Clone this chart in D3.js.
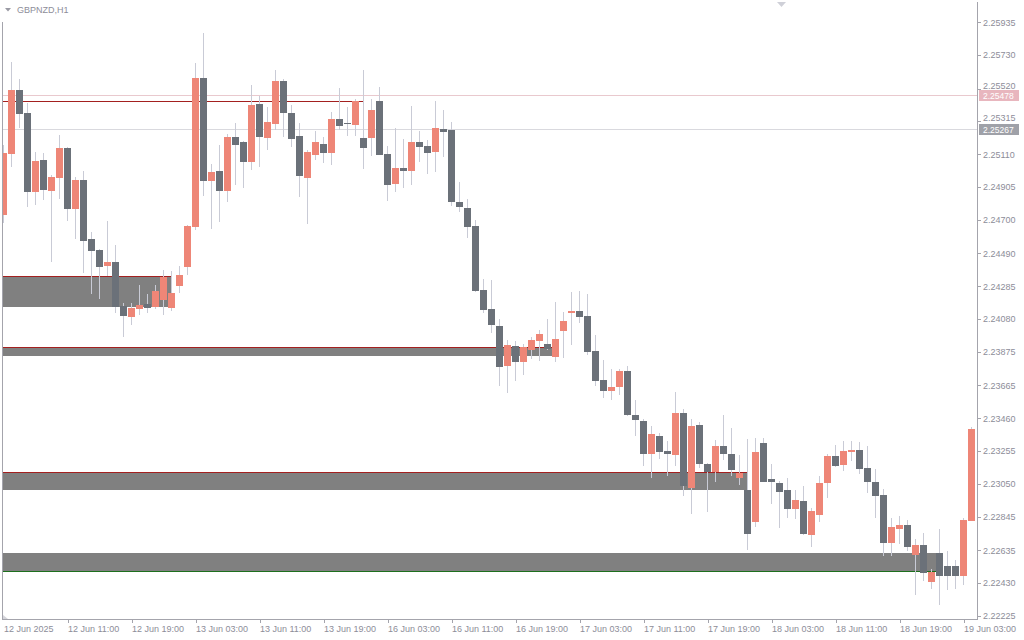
<!DOCTYPE html>
<html><head><meta charset="utf-8">
<script src="https://cdn.jsdelivr.net/npm/d3@7"></script>
<style>html,body{margin:0;padding:0;background:#fff;} svg{display:block;}</style>
</head><body>
<svg id="chart" width="1024" height="640"></svg>
<script>
const symbolLabel = "GBPNZD,H1";
const opens = [2.24732,2.25113,2.25512,2.25368,2.24874,2.25074,2.24880,2.24962,2.25149,2.24768,
2.24949,2.24580,2.24512,2.24412,2.24437,2.24162,2.24095,2.24145,2.24172,2.24157,
2.24201,2.24151,2.24288,2.24407,2.24657,2.25587,2.24945,2.25005,2.24882,2.25218,
2.25187,2.25063,2.25424,2.25213,2.25301,2.25568,2.25368,2.25224,2.24963,2.25107,
2.25174,2.25120,2.25330,2.25303,2.25295,2.25212,2.25213,2.25443,2.25112,2.24926,
2.25024,2.25007,2.25187,2.25162,2.25124,2.25268,2.25262,2.24812,2.24774,2.24662,
2.24262,2.24143,2.24037,2.23788,2.23912,2.23813,2.23888,2.23945,2.23924,2.23845,
2.24007,2.24118,2.24130,2.24099,2.23880,2.23699,2.23632,2.23657,2.23755,2.23480,
2.23443,2.23238,2.23349,2.23255,2.23232,2.23493,2.23026,2.23418,2.23174,2.23122,
2.23287,2.23237,2.23088,2.23012,2.22813,2.23305,2.23080,2.23055,2.23012,2.22895,
2.22943,2.22732,2.22857,2.23057,2.23224,2.23170,2.23251,2.23262,2.23149,2.23062,
2.22980,2.22682,2.22770,2.22793,2.22607,2.22668,2.22438,2.22618,2.22537,2.22537,
2.22476,2.22820];
const highs = [2.25168,2.25687,2.25580,2.25428,2.25124,2.25118,2.24980,2.25230,2.25155,2.24968,
2.25005,2.24624,2.24518,2.24693,2.24543,2.24182,2.24178,2.24293,2.24237,2.24293,
2.24387,2.24380,2.24412,2.24668,2.25680,2.25868,2.25049,2.25168,2.25237,2.25305,
2.25193,2.25543,2.25476,2.25405,2.25637,2.25580,2.25420,2.25305,2.25137,2.25255,
2.25218,2.25374,2.25524,2.25405,2.25455,2.25637,2.25455,2.25530,2.25162,2.25272,
2.25203,2.25412,2.25255,2.25199,2.25443,2.25387,2.25312,2.24937,2.24830,2.24699,
2.24330,2.24324,2.24080,2.23949,2.23943,2.23924,2.23968,2.24012,2.24080,2.24187,
2.24124,2.24249,2.24255,2.24237,2.23980,2.23824,2.23768,2.23768,2.23787,2.23574,
2.23455,2.23413,2.23370,2.23318,2.23624,2.23518,2.23455,2.23437,2.23180,2.23324,
2.23480,2.23399,2.23230,2.23330,2.23337,2.23337,2.23174,2.23068,2.23087,2.23012,
2.23037,2.22899,2.23099,2.23237,2.23293,2.23318,2.23318,2.23312,2.23287,2.23143,
2.23018,2.22838,2.22849,2.22824,2.22705,2.22743,2.22520,2.22768,2.22630,2.22574,
2.22837,2.23405];
const lows = [2.24682,2.25032,2.25276,2.24782,2.24795,2.24824,2.24438,2.24832,2.24693,2.24580,
2.24368,2.24238,2.24207,2.24349,2.24120,2.23970,2.24045,2.24103,2.24120,2.24145,
2.24107,2.24132,2.24245,2.24357,2.24637,2.24851,2.24641,2.24688,2.24813,2.24920,
2.24901,2.25013,2.25032,2.25138,2.25262,2.25220,2.25157,2.24845,2.24676,2.25074,
2.25057,2.25045,2.25263,2.25226,2.25224,2.25020,2.25101,2.25105,2.24820,2.24876,
2.24901,2.24920,2.25062,2.24988,2.25001,2.25093,2.24788,2.24751,2.24588,2.24251,
2.24120,2.23995,2.23663,2.23620,2.23695,2.23732,2.23832,2.23820,2.23888,2.23813,
2.23838,2.23918,2.24057,2.23857,2.23663,2.23588,2.23576,2.23607,2.23476,2.23351,
2.23163,2.23088,2.23207,2.23101,2.23163,2.22976,2.22863,2.23151,2.22876,2.23063,
2.23201,2.23101,2.23045,2.22638,2.22782,2.23062,2.22926,2.22776,2.22838,2.22832,
2.22732,2.22657,2.22813,2.22963,2.23157,2.23132,2.23195,2.23113,2.22995,2.22838,
2.22601,2.22601,2.22674,2.22632,2.22357,2.22445,2.22395,2.22295,2.22388,2.22395,
2.22420,2.22818];
const closes = [2.25118,2.25512,2.25363,2.24874,2.25068,2.24887,2.24968,2.25149,2.24768,2.24949,
2.24570,2.24507,2.24405,2.24437,2.24157,2.24101,2.24151,2.24166,2.24151,2.24255,
2.24343,2.24243,2.24355,2.24662,2.25587,2.24945,2.24999,2.24882,2.25218,2.25170,
2.25063,2.25418,2.25220,2.25312,2.25568,2.25370,2.25207,2.24976,2.25124,2.25187,
2.25120,2.25330,2.25288,2.25300,2.25443,2.25151,2.25387,2.25107,2.24920,2.25024,
2.25007,2.25187,2.25155,2.25120,2.25274,2.25251,2.24813,2.24782,2.24657,2.24257,
2.24138,2.24045,2.23782,2.23918,2.23813,2.23905,2.23949,2.23987,2.23893,2.23955,
2.24068,2.24130,2.24095,2.23876,2.23695,2.23632,2.23655,2.23755,2.23482,2.23451,
2.23238,2.23362,2.23251,2.23238,2.23493,2.23038,2.23412,2.23176,2.23122,2.23287,
2.23238,2.23138,2.23120,2.22738,2.23249,2.23063,2.23063,2.23001,2.22895,2.22949,
2.22738,2.22880,2.23055,2.23224,2.23163,2.23255,2.23262,2.23145,2.23063,2.22976,
2.22682,2.22780,2.22793,2.22657,2.22668,2.22495,2.22501,2.22476,2.22476,2.22476,
2.22824,2.23393];

const xTickBars = [0,8,16,24,32,40,48,56,64,72,80,88,96,104,112,120];
const xTickLabels = ["12 Jun 2025","12 Jun 11:00","12 Jun 19:00","13 Jun 03:00","13 Jun 11:00",
  "13 Jun 19:00","16 Jun 03:00","16 Jun 11:00","16 Jun 19:00","17 Jun 03:00","17 Jun 11:00",
  "17 Jun 19:00","18 Jun 03:00","18 Jun 11:00","18 Jun 19:00","19 Jun 03:00"];
const yTickValues = [2.25935,2.25730,2.25520,2.25315,2.25110,2.24905,2.24700,2.24490,2.24285,2.24080,
  2.23875,2.23665,2.23460,2.23255,2.23050,2.22845,2.22635,2.22430,2.22225];

const priceLineValues = [2.25478, 2.25267];
const priceLineColors = ["#e9c9ce", "#d9d9de"];
const priceLabelColors = ["#e8b6be", "#9fa1a8"];

const zoneTops    = [2.24349, 2.23903, 2.23122, 2.22618];
const zoneBottoms = [2.24157, 2.23849, 2.23012, 2.22503];
const zoneEndBars = [21, 69, 93, 117];
const zoneLineSide = ["top", "top", "top", "bottom"];
const zoneLineColors = ["#a3201f", "#a3201f", "#a3201f", "#1d6f1d"];
const resistanceLevel = 2.25441;
const resistanceEndBar = 45;

const W = 1024, H = 640;
const plotLeft = 3, plotRight = 977, plotBottom = 619;
const svg = d3.select("#chart");
const font = "'Liberation Sans', Arial, sans-serif";
const textColor = "#8d8d99";

const x = d3.scaleLinear().domain([0, 121]).range([3.5, 971.5]);
const y = d3.scaleLinear().domain([2.22225, 2.25935]).range([615.8, 22.2]);

svg.append("rect").attr("width", W).attr("height", H).attr("fill", "#fff");

svg.append("defs").append("clipPath").attr("id", "plotclip")
  .append("rect").attr("x", plotLeft).attr("y", 0).attr("width", plotRight - plotLeft).attr("height", plotBottom);

const plot = svg.append("g").attr("clip-path", "url(#plotclip)").attr("shape-rendering", "crispEdges");

// price lines
priceLineValues.forEach((v, i) => {
  plot.append("line").attr("x1", plotLeft).attr("x2", plotRight)
    .attr("y1", Math.round(y(v)) + 0.5).attr("y2", Math.round(y(v)) + 0.5)
    .attr("stroke", priceLineColors[i]).attr("stroke-width", 1);
});

// zones
zoneTops.forEach((t, i) => {
  const yt = Math.round(y(t)), yb = Math.round(y(zoneBottoms[i]));
  const xe = Math.round(x(zoneEndBars[i]));
  plot.append("rect").attr("x", plotLeft).attr("y", yt).attr("width", xe - plotLeft).attr("height", yb - yt)
    .attr("fill", "#808080");
  const ly = zoneLineSide[i] === "top" ? yt : yb;
  plot.append("line").attr("x1", plotLeft).attr("x2", xe).attr("y1", ly + 0.5).attr("y2", ly + 0.5)
    .attr("stroke", zoneLineColors[i]).attr("stroke-width", 1.3);
});

// resistance line
plot.append("line").attr("x1", plotLeft).attr("x2", Math.round(x(resistanceEndBar)))
  .attr("y1", Math.round(y(resistanceLevel)) + 0.5).attr("y2", Math.round(y(resistanceLevel)) + 0.5)
  .attr("stroke", "#a3201f").attr("stroke-width", 1.3);

// candles
const bars = d3.range(opens.length);
plot.selectAll("rect.wick").data(bars).enter().append("rect").attr("class", "wick")
  .attr("x", i => x(i) - 0.5).attr("width", 1)
  .attr("y", i => Math.round(y(highs[i])))
  .attr("height", i => Math.max(1, Math.round(y(lows[i])) - Math.round(y(highs[i]))))
  .attr("fill", "#c9cbd6");
plot.selectAll("rect.body").data(bars).enter().append("rect").attr("class", "body")
  .attr("x", i => x(i) - 3.5).attr("width", 7)
  .attr("y", i => Math.round(y(Math.max(opens[i], closes[i]))))
  .attr("height", i => Math.max(1, Math.round(y(Math.min(opens[i], closes[i]))) - Math.round(y(Math.max(opens[i], closes[i])))))
  .attr("fill", i => closes[i] >= opens[i] ? "#ee8677" : "#6b7179");

// frame
const frame = svg.append("g").attr("shape-rendering", "crispEdges");
frame.append("line").attr("x1", 2.5).attr("x2", 2.5).attr("y1", 22).attr("y2", plotBottom).attr("stroke", "#a4a4ac");
frame.append("line").attr("x1", plotRight + 0.5).attr("x2", plotRight + 0.5).attr("y1", 2).attr("y2", plotBottom + 1).attr("stroke", "#a4a4ac");
frame.append("line").attr("x1", 2).attr("x2", plotRight + 1).attr("y1", plotBottom + 0.5).attr("y2", plotBottom + 0.5).attr("stroke", "#a4a4ac");

// y axis
const yAxis = d3.axisRight(y).tickValues(yTickValues).tickFormat(d3.format(".5f")).tickSize(4).tickPadding(2);
const gy = svg.append("g").attr("transform", `translate(${plotRight},0)`).call(yAxis);
gy.select(".domain").remove();
gy.selectAll(".tick line").attr("stroke", "#a4a4ac").attr("shape-rendering", "crispEdges");
gy.selectAll(".tick text").attr("font-family", font).attr("font-size", 9).attr("fill", textColor);
// labels partly covered by the price boxes sit a little higher so they remain readable
gy.selectAll(".tick text").filter(d => d === 2.25520 || d === 2.25315).attr("dy", "-0.05em");

// x axis
const xAxis = d3.axisBottom(x).tickValues(xTickBars).tickFormat((d, i) => xTickLabels[i]).tickSize(4).tickPadding(3);
const gx = svg.append("g").attr("transform", `translate(0,${plotBottom})`).call(xAxis);
gx.select(".domain").remove();
gx.selectAll(".tick line").attr("stroke", "#a4a4ac").attr("shape-rendering", "crispEdges")
  .attr("display", (d, i) => i === 0 ? "none" : null);
gx.selectAll(".tick text").attr("font-family", font).attr("font-size", 9).attr("fill", textColor)
  .attr("text-anchor", "start").attr("x", 0);

// price label boxes
priceLineValues.forEach((v, i) => {
  const yy = Math.round(y(v));
  const g = svg.append("g");
  g.append("rect").attr("x", 979).attr("y", yy - 5).attr("width", 40).attr("height", 11)
    .attr("fill", priceLabelColors[i]).attr("shape-rendering", "crispEdges");
  g.append("text").attr("x", 983).attr("y", yy + 4).attr("font-family", font).attr("font-size", 8.5)
    .attr("fill", "#ffffff").text(d3.format(".5f")(v));
});

// corner marks
svg.append("path").attr("d", "M3,615 L8,619 L3,619 Z").attr("fill", "#d4d4da");
svg.append("path").attr("d", "M777,2 L786,2 L781.5,7 Z").attr("fill", "#cfd0d8");

// symbol label
svg.append("path").attr("d", "M5,8 L11,8 L8,11.5 Z").attr("fill", "#9a9aa4");
svg.append("text").attr("x", 17).attr("y", 10).attr("dy", "0.32em")
  .attr("font-family", font).attr("font-size", 9).attr("fill", textColor).text(symbolLabel);
</script>
</body></html>
